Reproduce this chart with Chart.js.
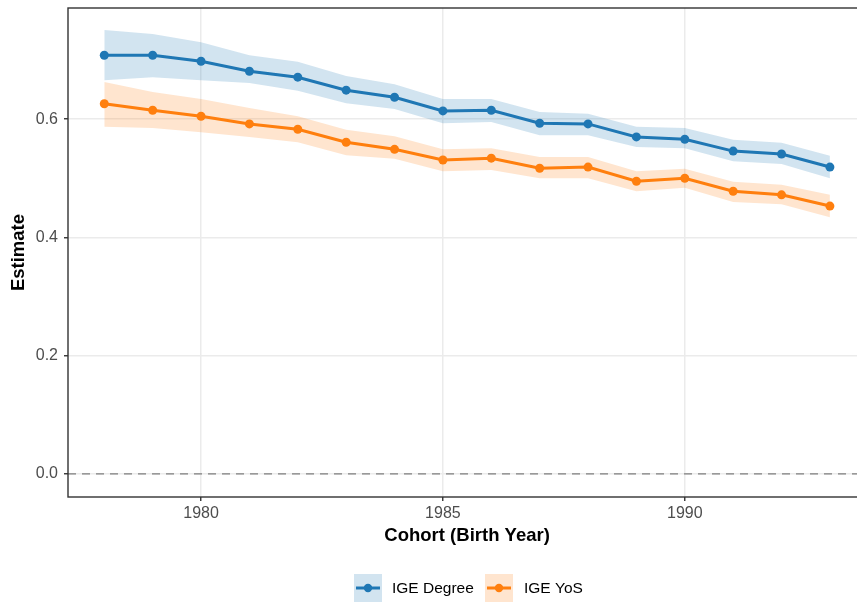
<!DOCTYPE html>
<html>
<head>
<meta charset="utf-8">
<script src="https://cdn.jsdelivr.net/npm/chart.js@4.4.1/dist/chart.umd.min.js"></script>
<style>
  body { margin: 0; background: #fff; }
  #wrap { width: 857px; height: 603px; }
</style>
</head>
<body>
<div id="wrap"><canvas id="cohortChart" width="857" height="603"></canvas></div>
<script>
// cohort estimates
const cohorts = [1978, 1979, 1980, 1981, 1982, 1983, 1984, 1985, 1986, 1987, 1988, 1989, 1990, 1991, 1992, 1993];

const igeDegree     = [0.708, 0.708, 0.698, 0.681, 0.671, 0.649, 0.637, 0.614, 0.615, 0.593, 0.592, 0.570, 0.566, 0.546, 0.541, 0.519];
const igeDegreeLow  = [0.666, 0.671, 0.666, 0.661, 0.648, 0.627, 0.617, 0.593, 0.595, 0.573, 0.573, 0.553, 0.551, 0.529, 0.524, 0.500];
const igeDegreeHigh = [0.751, 0.744, 0.730, 0.708, 0.697, 0.673, 0.659, 0.634, 0.634, 0.612, 0.609, 0.587, 0.585, 0.565, 0.560, 0.538];

const igeYos     = [0.626, 0.615, 0.605, 0.592, 0.583, 0.561, 0.549, 0.531, 0.534, 0.517, 0.519, 0.495, 0.500, 0.478, 0.472, 0.453];
const igeYosLow  = [0.587, 0.585, 0.578, 0.570, 0.561, 0.539, 0.533, 0.512, 0.514, 0.500, 0.500, 0.478, 0.484, 0.460, 0.456, 0.434];
const igeYosHigh = [0.663, 0.646, 0.634, 0.619, 0.605, 0.582, 0.571, 0.549, 0.551, 0.536, 0.536, 0.512, 0.516, 0.494, 0.489, 0.472];

const xTicks = [1980, 1985, 1990];
const yTicks = [0, 0.2, 0.4, 0.6];

const seriesNames = ['IGE Degree', 'IGE YoS'];

const blue = '#1F77B4';
const orange = '#FF7F0E';
const blueFill = 'rgba(31, 119, 180, 0.2)';
const orangeFill = 'rgba(255, 127, 14, 0.2)';
const fontFamily = "'Liberation Sans', Arial, Helvetica, sans-serif";

function toPoints(values) {
    return cohorts.map((c, i) => ({ x: c, y: values[i] }));
}

function lineSet(label, values, color) {
    return {
        label: label,
        data: toPoints(values),
        borderColor: color,
        backgroundColor: color,
        borderWidth: 3,
        pointRadius: 4.5,
        pointBorderWidth: 0,
        pointBackgroundColor: color,
        fill: false,
        tension: 0
    };
}

function bandSet(values, fillColor, fillTo) {
    return {
        data: toPoints(values),
        borderWidth: 0,
        borderColor: 'rgba(0,0,0,0)',
        backgroundColor: fillColor,
        pointRadius: 0,
        fill: fillTo,
        tension: 0
    };
}

// dashed zero line, panel border, axis titles and legend
const panelDecor = {
    id: 'panelDecor',
    beforeDatasetsDraw(chart) {
        const { ctx, chartArea, scales } = chart;
        const y0 = scales.y.getPixelForValue(0);
        ctx.save();
        ctx.strokeStyle = '#7F7F7F';
        ctx.lineWidth = 1.3;
        ctx.setLineDash([8, 6]);
        ctx.beginPath();
        ctx.moveTo(chartArea.left, y0);
        ctx.lineTo(chartArea.right, y0);
        ctx.stroke();
        ctx.restore();
    },
    afterDraw(chart) {
        const { ctx, chartArea, scales } = chart;
        ctx.save();

        // panel border (right edge falls outside the picture)
        ctx.strokeStyle = '#333333';
        ctx.lineWidth = 1.4;
        ctx.strokeRect(chartArea.left, chartArea.top, chartArea.right - chartArea.left + 20, chartArea.bottom - chartArea.top);

        // axis titles
        ctx.fillStyle = '#000000';
        ctx.font = 'bold 18.5px ' + fontFamily;
        ctx.textAlign = 'center';
        ctx.textBaseline = 'middle';
        const xMid = scales.x.getPixelForValue(1985.5);
        ctx.fillText('Cohort (Birth Year)', xMid, 536);

        ctx.save();
        ctx.translate(19, (chartArea.top + chartArea.bottom) / 2);
        ctx.rotate(-Math.PI / 2);
        ctx.fillText('Estimate', 0, 0);
        ctx.restore();

        // legend
        const keys = [
            { name: seriesNames[0], color: blue, fill: blueFill, x: 354, tx: 392 },
            { name: seriesNames[1], color: orange, fill: orangeFill, x: 485, tx: 524 }
        ];
        const keyTop = 574, keySize = 28;
        ctx.font = '15.5px ' + fontFamily;
        ctx.textAlign = 'left';
        keys.forEach(k => {
            ctx.fillStyle = k.fill;
            ctx.fillRect(k.x, keyTop, keySize, keySize);
            const cy = keyTop + keySize / 2;
            ctx.strokeStyle = k.color;
            ctx.lineWidth = 3;
            ctx.beginPath();
            ctx.moveTo(k.x + 2, cy);
            ctx.lineTo(k.x + keySize - 2, cy);
            ctx.stroke();
            ctx.fillStyle = k.color;
            ctx.beginPath();
            ctx.arc(k.x + keySize / 2, cy, 4.2, 0, Math.PI * 2);
            ctx.fill();
            ctx.fillStyle = '#000000';
            ctx.fillText(k.name, k.tx, cy + 1);
        });

        ctx.restore();
    }
};

const ctx = document.getElementById('cohortChart').getContext('2d');
new Chart(ctx, {
    type: 'line',
    data: {
        datasets: [
            lineSet(seriesNames[0], igeDegree, blue),
            lineSet(seriesNames[1], igeYos, orange),
            bandSet(igeDegreeHigh, blueFill, false),
            bandSet(igeDegreeLow, blueFill, '-1'),
            bandSet(igeYosHigh, orangeFill, false),
            bandSet(igeYosLow, orangeFill, '-1')
        ]
    },
    options: {
        responsive: false,
        animation: false,
        events: [],
        layout: {
            autoPadding: false,
            padding: { top: 8, right: 0, bottom: 66, left: 0 }
        },
        plugins: {
            legend: { display: false },
            tooltip: { enabled: false },
            filler: { drawTime: 'beforeDatasetsDraw' }
        },
        scales: {
            x: {
                type: 'linear',
                min: 1977.25,
                max: 1993.56,
                afterBuildTicks: scale => {
                    scale.ticks = xTicks.map(v => ({ value: v }));
                },
                afterFit: scale => {
                    scale.height = 40;
                    scale.paddingLeft = 0;
                    scale.paddingRight = 0;
                },
                border: { display: false },
                grid: {
                    color: '#EBEBEB',
                    lineWidth: 1.5,
                    drawTicks: true,
                    tickLength: 4,
                    tickColor: '#333333',
                    tickWidth: 1.4
                },
                ticks: {
                    color: '#4D4D4D',
                    padding: 3,
                    maxRotation: 0,
                    font: { family: fontFamily, size: 16 },
                    callback: v => String(v)
                }
            },
            y: {
                type: 'linear',
                min: -0.039,
                max: 0.788,
                afterBuildTicks: scale => {
                    scale.ticks = yTicks.map(v => ({ value: v }));
                },
                afterFit: scale => {
                    scale.width = 68;
                    scale.paddingTop = 0;
                    scale.paddingBottom = 0;
                },
                border: { display: false },
                grid: {
                    color: '#EBEBEB',
                    lineWidth: 1.5,
                    drawTicks: true,
                    tickLength: 4,
                    tickColor: '#333333',
                    tickWidth: 1.4
                },
                ticks: {
                    color: '#4D4D4D',
                    padding: 6,
                    font: { family: fontFamily, size: 16 },
                    callback: v => v.toFixed(1)
                }
            }
        }
    },
    plugins: [panelDecor]
});
</script>
</body>
</html>
